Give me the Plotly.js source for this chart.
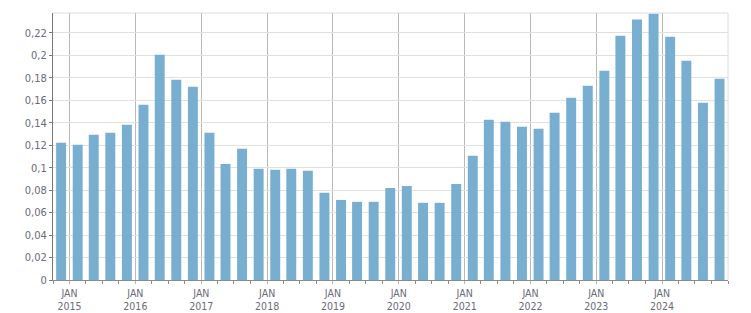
<!DOCTYPE html>
<html>
<head>
<meta charset="utf-8">
<script src="https://cdn.plot.ly/plotly-3.0.1.min.js"></script>
<style>html,body{margin:0;padding:0;background:#fff;}#chart{width:751px;height:313px;}</style>
</head>
<body>
<div id="chart"></div>
<script>
const quarterDates = [
  '2014-11-15',
  '2015-02-15','2015-05-15','2015-08-15','2015-11-15',
  '2016-02-15','2016-05-15','2016-08-15','2016-11-15',
  '2017-02-15','2017-05-15','2017-08-15','2017-11-15',
  '2018-02-15','2018-05-15','2018-08-15','2018-11-15',
  '2019-02-15','2019-05-15','2019-08-15','2019-11-15',
  '2020-02-15','2020-05-15','2020-08-15','2020-11-15',
  '2021-02-15','2021-05-15','2021-08-15','2021-11-15',
  '2022-02-15','2022-05-15','2022-08-15','2022-11-15',
  '2023-02-15','2023-05-15','2023-08-15','2023-11-15',
  '2024-02-15','2024-05-15','2024-08-15','2024-11-15'
];
const values = [
  0.1222,
  0.1204,0.1293,0.1311,0.1382,
  0.1561,0.2007,0.1784,0.1721,
  0.1311,0.1034,0.1168,0.0990,
  0.0981,0.0990,0.0972,0.0776,
  0.0713,0.0696,0.0696,0.0820,
  0.0838,0.0687,0.0687,0.0856,
  0.1106,0.1427,0.1409,0.1364,
  0.1347,0.1489,0.1623,0.1730,
  0.1864,0.2176,0.2319,0.2372,
  0.2167,0.1953,0.1578,0.1792
];
const xTickVals = ['2015-01-01','2016-01-01','2017-01-01','2018-01-01','2019-01-01','2020-01-01','2021-01-01','2022-01-01','2023-01-01','2024-01-01'];
const xTickText = ['JAN<br>2015','JAN<br>2016','JAN<br>2017','JAN<br>2018','JAN<br>2019','JAN<br>2020','JAN<br>2021','JAN<br>2022','JAN<br>2023','JAN<br>2024'];
const yTickVals = [0,0.02,0.04,0.06,0.08,0.1,0.12,0.14,0.16,0.18,0.2,0.22];
const yTickText = ['0','0,02','0,04','0,06','0,08','0,1','0,12','0,14','0,16','0,18','0,2','0,22'];

const trace = {
  type: 'bar',
  x: quarterDates,
  y: values,
  marker: {color: '#78afd1'},
  hoverinfo: 'x+y'
};

const layout = {
  width: 751, height: 313,
  margin: {l: 53, r: 23, t: 13, b: 33, pad: 0},
  paper_bgcolor: '#fff', plot_bgcolor: '#fff',
  bargap: 0.38,
  showlegend: false,
  font: {family: 'DejaVu Sans Condensed, DejaVu Sans, sans-serif', size: 11, color: '#6a6a78'},
  xaxis: {
    type: 'date',
    range: ['2014-10-01', '2025-01-01'],
    tickmode: 'array', tickvals: xTickVals, ticktext: xTickText,
    tickfont: {size: 10.5},
    showgrid: true, gridcolor: '#b8b8b8', gridwidth: 1,
    showline: true, linecolor: '#8a8a8a', linewidth: 1,
    ticks: 'outside', ticklen: 3, tickcolor: '#b8b8b8',
    minor: {tickmode: 'linear', tick0: '2015-01-01', dtick: 'M3', ticks: 'outside', ticklen: 3, tickcolor: '#8a8a8a', showgrid: false},
    zeroline: false, fixedrange: true
  },
  yaxis: {
    range: [0, 0.2378],
    tickmode: 'array', tickvals: yTickVals, ticktext: yTickText,
    showgrid: true, gridcolor: '#e0e0e0', gridwidth: 1,
    showline: true, linecolor: '#7a7a7a', linewidth: 1,
    ticks: 'outside', ticklen: 3, tickcolor: '#7a7a7a',
    zeroline: false, fixedrange: true
  },
  shapes: [
    {type: 'line', xref: 'paper', yref: 'paper', x0: 0, x1: 1, y0: 1, y1: 1, line: {color: '#dcdcdc', width: 1}},
    {type: 'line', xref: 'paper', yref: 'paper', x0: 1, x1: 1, y0: 0, y1: 1, line: {color: '#dcdcdc', width: 1}}
  ]
};

Plotly.newPlot('chart', [trace], layout, {displayModeBar: false, staticPlot: true});
</script>
</body>
</html>
